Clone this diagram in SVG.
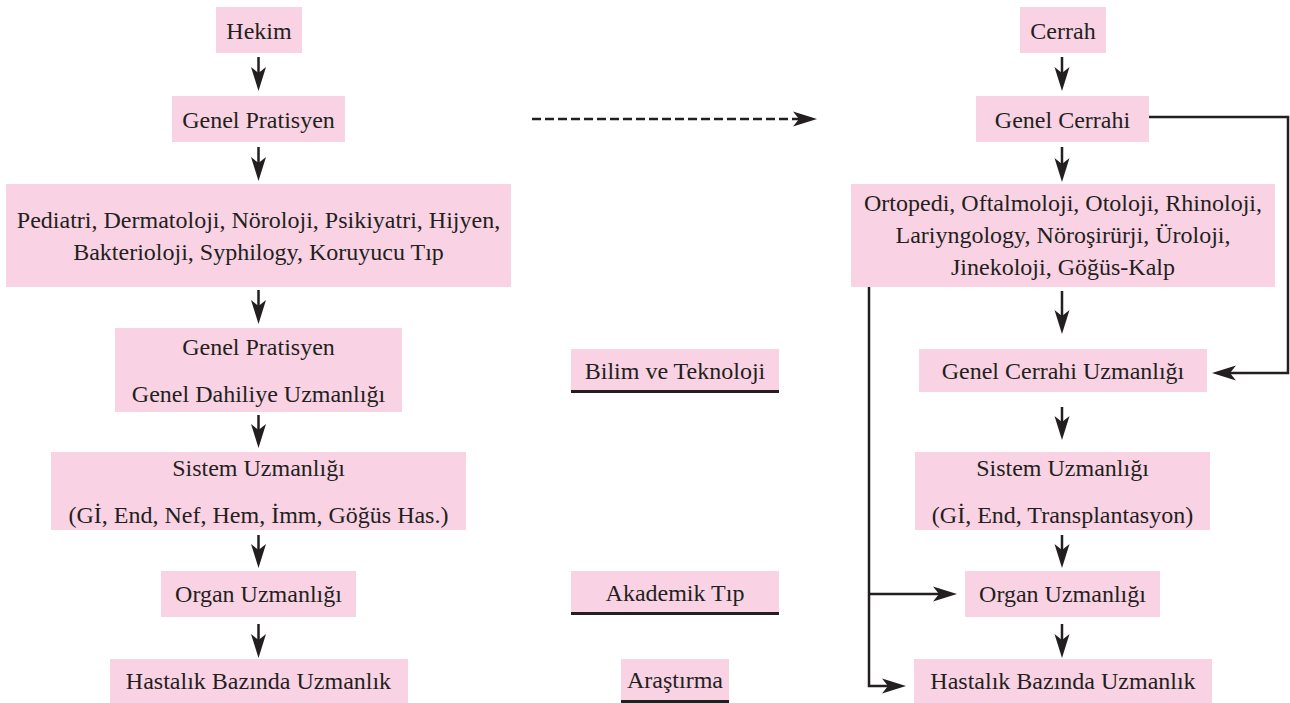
<svg xmlns="http://www.w3.org/2000/svg" width="1290" height="703" viewBox="0 0 1290 703">
<style>
.b{fill:#f9d3e4;}
text{font-size:24px;fill:#231f20;text-anchor:middle;}
.c{fill:none;stroke:#231f20;stroke-width:2.5;}
.d{stroke-dasharray:9 4;}
.u{stroke:#231f20;stroke-width:3;}
</style>
<defs>
<marker id="ah" viewBox="-25 -8 26 16" refX="-13" refY="0" markerWidth="26" markerHeight="16" markerUnits="userSpaceOnUse" orient="auto">
<path d="M0,0 L-24,-7.5 L-18,0 L-24,7.5 Z" fill="#231f20"/>
</marker>
</defs>
<rect width="1290" height="703" fill="#ffffff"/>
<g font-family="Liberation Serif, Times New Roman, Times, serif">
<g id="hekim"><rect class="b" x="216" y="7" width="86" height="46"/><text x="259" y="39">Hekim</text></g>
<g id="genel-pratisyen"><rect class="b" x="172" y="96" width="173" height="46"/><text x="258.5" y="128">Genel Pratisyen</text></g>
<g id="dahili-branslar"><rect class="b" x="6" y="184" width="505" height="103"/><text x="258.5" y="228">Pediatri, Dermatoloji, Nöroloji, Psikiyatri, Hijyen,</text><text x="258.5" y="260">Bakterioloji, Syphilogy, Koruyucu Tıp</text></g>
<g id="genel-dahiliye"><rect class="b" x="115" y="328" width="287" height="84"/><text x="258.5" y="355">Genel Pratisyen</text><text x="258.5" y="402">Genel Dahiliye Uzmanlığı</text></g>
<g id="sistem-sol"><rect class="b" x="51" y="452" width="415" height="78"/><text x="258.5" y="476">Sistem Uzmanlığı</text><text x="258.5" y="523">(Gİ, End, Nef, Hem, İmm, Göğüs Has.)</text></g>
<g id="organ-sol"><rect class="b" x="161" y="571" width="195" height="46"/><text x="258.5" y="602">Organ Uzmanlığı</text></g>
<g id="hastalik-sol"><rect class="b" x="110" y="659" width="298" height="44"/><text x="258.5" y="689">Hastalık Bazında Uzmanlık</text></g>
<g id="bilim"><rect class="b" x="571" y="349" width="208" height="42"/><line class="u" x1="571" y1="391.5" x2="779" y2="391.5"/><text x="675" y="379">Bilim ve Teknoloji</text></g>
<g id="akademik"><rect class="b" x="571" y="571" width="208" height="42"/><line class="u" x1="571" y1="613.5" x2="779" y2="613.5"/><text x="675" y="601">Akademik Tıp</text></g>
<g id="arastirma"><rect class="b" x="621" y="659" width="108" height="42"/><line class="u" x1="621" y1="701.5" x2="729" y2="701.5"/><text x="675" y="688">Araştırma</text></g>
<g id="cerrah"><rect class="b" x="1020" y="7" width="86" height="46"/><text x="1063" y="39">Cerrah</text></g>
<g id="genel-cerrahi"><rect class="b" x="976" y="96" width="173" height="46"/><text x="1062.5" y="128">Genel Cerrahi</text></g>
<g id="cerrahi-branslar"><rect class="b" x="851" y="184" width="424" height="103"/><text x="1063" y="211">Ortopedi, Oftalmoloji, Otoloji, Rhinoloji,</text><text x="1063" y="243">Lariyngology, Nöroşirürji, Üroloji,</text><text x="1063" y="275">Jinekoloji, Göğüs-Kalp</text></g>
<g id="genel-cerrahi-uzm"><rect class="b" x="919" y="349" width="288" height="43"/><text x="1063" y="379">Genel Cerrahi Uzmanlığı</text></g>
<g id="sistem-sag"><rect class="b" x="915" y="452" width="295" height="78"/><text x="1062.5" y="476">Sistem Uzmanlığı</text><text x="1062.5" y="523">(Gİ, End, Transplantasyon)</text></g>
<g id="organ-sag"><rect class="b" x="965" y="571" width="195" height="46"/><text x="1062.5" y="602">Organ Uzmanlığı</text></g>
<g id="hastalik-sag"><rect class="b" x="914" y="659" width="298" height="44"/><text x="1063" y="689">Hastalık Bazında Uzmanlık</text></g>
</g>
<g id="connectors">
<path class="c" marker-end="url(#ah)" d="M258.5,57 V78"/>
<path class="c" marker-end="url(#ah)" d="M258.5,147 V168"/>
<path class="c" marker-end="url(#ah)" d="M258.5,290 V311"/>
<path class="c" marker-end="url(#ah)" d="M258.5,415 V435"/>
<path class="c" marker-end="url(#ah)" d="M258.5,535 V555"/>
<path class="c" marker-end="url(#ah)" d="M258.5,624 V645"/>
<path class="c" marker-end="url(#ah)" d="M1062,57 V78"/>
<path class="c" marker-end="url(#ah)" d="M1062,147 V169"/>
<path class="c" marker-end="url(#ah)" d="M1062,291 V321"/>
<path class="c" marker-end="url(#ah)" d="M1062,407 V427"/>
<path class="c" marker-end="url(#ah)" d="M1062,535 V555"/>
<path class="c" marker-end="url(#ah)" d="M1062,624 V645"/>
<path class="c d" marker-end="url(#ah)" d="M532,119 H804"/>
<path class="c" marker-end="url(#ah)" d="M1149,117 H1288 V373 H1225"/>
<path class="c" marker-end="url(#ah)" d="M869,287 V686 H893"/>
<path class="c" marker-end="url(#ah)" d="M869,594 H944"/>
</g>
</svg>
